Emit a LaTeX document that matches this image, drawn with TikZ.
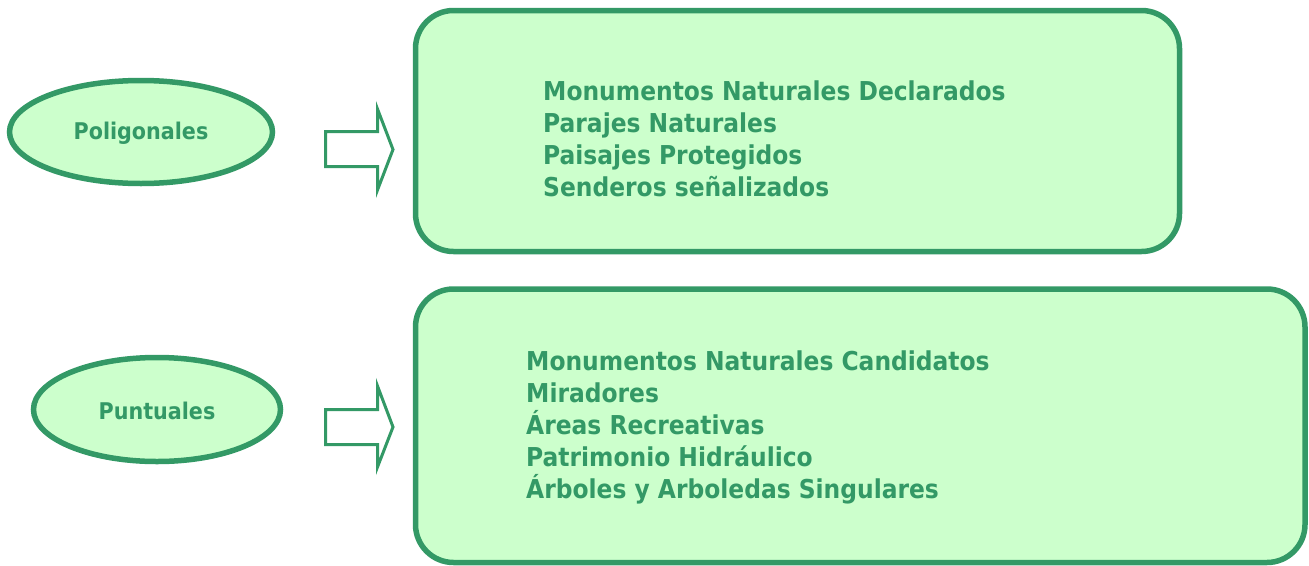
\documentclass[tikz,border=0pt]{standalone}
\usepackage{fontspec}
\setmainfont{DejaVu Sans Condensed}[BoldFont={DejaVu Sans Condensed Bold}]
\definecolor{lineg}{RGB}{51,153,102}
\definecolor{fillg}{RGB}{204,255,204}
\tikzset{
  catbox/.style={draw=lineg, fill=fillg, line width=5.5pt, rounded corners=38pt},
  catell/.style={draw=lineg, fill=fillg, line width=5.5pt},
  blockarrow/.style={draw=lineg, fill=white, line width=3pt, line join=miter},
  elltext/.style={text=lineg, font=\bfseries\fontsize{23}{27}\selectfont, inner sep=0pt},
  listtext/.style={text=lineg, font=\bfseries\fontsize{26}{32}\selectfont, align=left, inner sep=0pt, anchor=north west}
}
\begin{document}
\begin{tikzpicture}[x=1pt,y=-1pt]
\useasboundingbox (0,0) rectangle (1309,565);
% boxes
\draw[catbox] (415.5,10.5) rectangle (1179.5,251.5);
\draw[catbox] (415.5,289) rectangle (1305,562.5);
% ellipses
\draw[catell] (141,132) ellipse [x radius=131.5, y radius=51.5];
\draw[catell] (157,409.5) ellipse [x radius=123.5, y radius=52];
\node[elltext] (pol) at (141,133) {Poligonales};
\node[elltext] (pun) at (157,411) {Puntuales};
% block arrows
\draw[blockarrow] (325.5,131.5) -- (377.5,131.5) -- (377.5,109) -- (393,149.5) -- (377.5,190) -- (377.5,166.5) -- (325.5,166.5) -- cycle;
\draw[blockarrow] (325.5,409.5) -- (377.5,409.5) -- (377.5,386) -- (393,427) -- (377.5,467) -- (377.5,444.5) -- (325.5,444.5) -- cycle;
% lists
\node[listtext] (l1) at (543,80.5) {Monumentos Naturales Declarados\\Parajes Naturales\\Paisajes Protegidos\\Senderos señalizados};
\node[listtext] (l2) at (526,350.5) {Monumentos Naturales Candidatos\\Miradores\\Áreas Recreativas\\Patrimonio Hidráulico\\Árboles y Arboledas Singulares};
\end{tikzpicture}
\end{document}
